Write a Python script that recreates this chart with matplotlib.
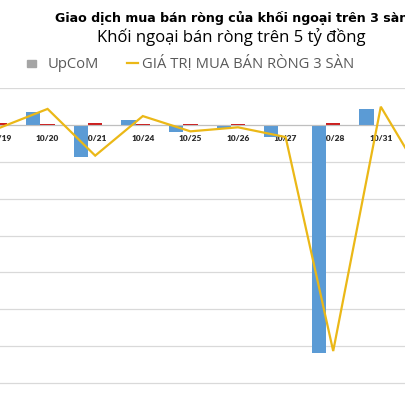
import matplotlib
matplotlib.use("Agg")
import matplotlib.pyplot as plt
import numpy as np
from matplotlib.patches import Rectangle
from matplotlib.lines import Line2D

categories = ["10/19", "10/20", "10/21", "10/24", "10/25", "10/26", "10/27", "10/28", "10/31", "11/01"]
hose = [-27, 73, -175, 28, -39, -17, -66, -1240, 87, -300]
hnx = [11, 5, 10, 8, 5, 8, 3, 12, 2, 5]
upcom = [2, 2, 2, 2, 2, 2, 2, 2, 2, 2]
total = [-14, 88, -166, 49, -34, -12, -65, -1228, 100, -334]

title = "Giao dịch mua bán ròng của khối ngoại trên 3 sàn"
subtitle = "Khối ngoại bán ròng trên 5 tỷ đồng"
legend_upcom = "UpCoM"
legend_total = "GIÁ TRỊ MUA BÁN RÒNG 3 SÀN"

W = H = 406
fig = plt.figure(figsize=(4.06, 4.06), dpi=100)

def fx(px):
    return px / W

def fy(py):
    return 1 - py / H

# axes: top at y=89.3 px (value 200), 36.8 px per 200 units
top_px = 89.3
step_px = 36.8
ymin, ymax = -1600, 200
bottom_px = top_px + (ymax - ymin) / 200 * step_px
ax = fig.add_axes([0, fy(bottom_px), 1, (bottom_px - top_px) / H])
cat_px = 47.6

x = np.arange(len(categories))
bw = 0.3
ax.bar(x - bw, hose, bw, color="#5B9BD5", zorder=2)
ax.bar(x, hnx, bw, color="#CC1F1F", zorder=2)
ax.bar(x + bw, upcom, bw, color="#A5A5A5", zorder=2)
ax.plot(x, total, color="#EBB817", lw=1.6, zorder=4, solid_joinstyle="miter")

ax.set_yticks(np.arange(ymin, ymax + 1, 200))
ax.yaxis.grid(True, color="#D9D9D9", lw=0.9, zorder=0)
ax.set_axisbelow(True)
ax.tick_params(axis="y", left=False, labelleft=False)
for s in ["top", "right", "left"]:
    ax.spines[s].set_visible(False)
ax.spines["bottom"].set_position(("data", 0))
ax.spines["bottom"].set_color("#BFBFBF")
ax.spines["bottom"].set_linewidth(0.8)
ax.spines["bottom"].set_zorder(3)
ax.set_xticks(x)
ax.set_xticklabels(categories, fontsize=6.0, fontweight="heavy", color="#2B2B2B", family="Lato")
ax.tick_params(axis="x", length=0, pad=6.3)
for lbl in ax.get_xticklabels():
    lbl.set_zorder(5)
ax.set_ylim(ymin, ymax)
ax.set_xlim(0, W / cat_px)

# titles
fig.text(fx(55), fy(21.7), title, fontsize=9.1, fontweight="bold", family="DejaVu Sans",
         color="#000000", ha="left", va="baseline")
fig.text(fx(97), fy(41.7), subtitle, fontsize=12.0, family="Open Sans",
         color="#000000", ha="left", va="baseline")

# legend (partial, as visible)
fig.patches.append(Rectangle((fx(26.7), fy(67.7)), fx(36) - fx(26.7), fy(61) - fy(67.7),
                             transform=fig.transFigure, color="#A5A5A5", figure=fig))
fig.text(fx(47.7), fy(68.3), legend_upcom, fontsize=10.6, family="Open Sans",
         color="#595959", ha="left", va="baseline")
fig.lines.append(Line2D([fx(126.7), fx(138.3)], [fy(63.8), fy(63.8)], transform=fig.transFigure,
                        color="#EBB817", lw=1.6, figure=fig))
fig.text(fx(141.7), fy(68.3), legend_total, fontsize=10.6, family="Open Sans",
         color="#595959", ha="left", va="baseline")

fig.savefig("out.png", dpi=100)
